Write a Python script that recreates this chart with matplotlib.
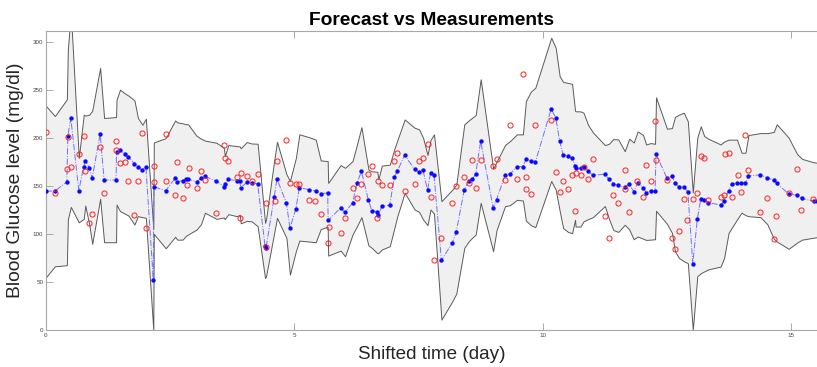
import matplotlib
matplotlib.use("Agg")
import matplotlib.pyplot as plt
import numpy as np

# forecast times (day), forecast value and band limits (mg/dl)
t_fc = [0.00, 0.18, 0.42, 0.44, 0.50, 0.66, 0.76, 0.79, 0.87, 0.93,
        1.09, 1.17, 1.41, 1.42, 1.49, 1.59, 1.66, 1.78, 1.85, 1.94,
        2.01, 2.16, 2.17, 2.41, 2.60, 2.64, 2.75, 2.82, 2.86, 3.03,
        3.12, 3.20, 3.43, 3.58, 3.60, 3.67, 3.84, 3.90, 3.92, 4.04,
        4.14, 4.26, 4.41, 4.43, 4.59, 4.65, 4.84, 4.91, 5.03, 5.10,
        5.30, 5.43, 5.53, 5.67, 5.68, 5.93, 6.02, 6.17, 6.26, 6.35,
        6.49, 6.56, 6.67, 6.69, 6.76, 6.92, 7.01, 7.07, 7.22, 7.42,
        7.51, 7.59, 7.68, 7.74, 7.81, 7.96, 8.18, 8.26, 8.42, 8.51,
        8.58, 8.65, 8.75, 9.00, 9.07, 9.24, 9.34, 9.48, 9.60, 9.66,
        9.76, 9.85, 10.17, 10.26, 10.34, 10.41, 10.51, 10.59, 10.65, 10.66,
        10.76, 10.82, 10.91, 11.01, 11.25, 11.33, 11.42, 11.52, 11.65, 11.74,
        11.83, 11.91, 12.02, 12.08, 12.17, 12.26, 12.28, 12.50, 12.60, 12.66,
        12.74, 12.84, 12.92, 13.02, 13.11, 13.18, 13.25, 13.33, 13.58, 13.65,
        13.74, 13.80, 13.91, 14.00, 14.08, 14.14, 14.38, 14.52, 14.65, 14.71,
        14.95, 15.12, 15.22, 15.45, 15.52]
forecast = [144.5, 144.5, 154, 202, 220, 145, 170, 176, 169, 158,
            204, 156, 156, 185, 187, 183, 180, 173, 170, 166,
            170, 52, 149, 145, 158, 154, 155.5, 156.6, 157, 154,
            157.6, 159.7, 155, 149, 151.7, 156.6, 155.5, 155, 148, 153.5,
            153, 152, 87, 85.4, 138, 157, 132, 106, 126, 148,
            146, 144.5, 141.7, 142.7, 114, 127, 122.6, 132, 153, 165,
            135, 124, 123, 120, 128.5, 130, 159, 165, 182, 167,
            164.6, 166, 145.5, 163, 161.5, 72.6, 90.6, 102.4, 146, 155,
            156.6, 162.5, 196.5, 127.4, 135.7, 161, 162, 170, 170, 177.4,
            176, 174.6, 229.9, 220.8, 196.5, 182, 180.5, 179, 170.5, 168,
            168, 170, 165, 161, 162, 157, 151.7, 150.7, 148.6, 151.7,
            144, 152.8, 148, 143, 144.8, 144.4, 183, 158, 160, 153,
            149, 148.6, 143.8, 69, 115, 136.5, 135.4, 132.6, 130, 133.7,
            145, 151.7, 152.4, 152.4, 153, 160, 161.5, 158.3, 156, 152.4,
            141.7, 140, 136.8, 134, 134]
upper = [233, 222.6, 240, 292, 330, 179, 224, 223, 224, 228,
         272.6, 220.5, 221.5, 239.6, 250, 246, 243.8, 238.9, 220.5, 213.5,
         219.8, 105, 195, 199.7, 218, 216, 215, 214, 214, 202,
         199, 197, 194.8, 189.6, 181, 192.4, 191.3, 191, 189, 195.5,
         194, 193.8, 111.5, 115, 175, 195.8, 162, 155, 179, 203.5,
         200.5, 198, 176.4, 175.7, 153, 171.5, 168.7, 175.7, 193, 211,
         167, 165, 164.6, 156.6, 171, 172, 188, 197, 219, 210.4,
         208.7, 200, 182, 197.6, 203.5, 134, 146, 151.4, 214, 218,
         220.8, 223.6, 260.8, 168, 175, 192.4, 196.5, 203.5, 203.5, 238,
         248, 252, 304, 293.5, 264, 258, 257, 256, 228, 227.5,
         227.4, 226, 213.5, 205.5, 192.4, 193.6, 198.6, 198.2, 186, 199,
         195, 206.6, 202.8, 193, 194.4, 193.7, 242, 209.4, 210, 221.5,
         224, 226, 217, 143, 200, 212, 201.7, 199, 193, 196,
         198, 198, 198, 184.4, 184.4, 202.8, 204.8, 204.8, 206, 214,
         200, 183, 178, 174.5, 174]
lower = [55, 66.3, 67.4, 115, 128, 112, 115.6, 129.5, 110, 89.6,
         136.5, 91.3, 91.3, 130.5, 123.6, 121, 119, 109.7, 118.4, 117.4,
         116.7, 0, 100, 85, 97, 94, 94, 98, 99.3, 104.5,
         110, 122, 115.6, 117, 115.3, 120.5, 118.4, 119.8, 111, 113.5,
         113, 108, 54, 56, 100, 116.7, 95.8, 57.6, 82, 93,
         92, 91.3, 105, 107.3, 77.4, 82.6, 76.7, 99.3, 108, 117.4,
         88, 85.4, 79.9, 80, 83.7, 87.2, 105.5, 118, 142.7, 125.3,
         122.9, 115, 109, 125.3, 121, 10.8, 30, 38, 85.4, 92.4,
         96, 99.3, 132.3, 82, 104, 128.8, 129.9, 135.4, 134.7, 113.9,
         109, 107, 155, 146, 124, 106, 102, 100.7, 114.6, 107.6,
         107.6, 113, 115.3, 117.4, 129, 116, 104, 102, 109.5, 104.6,
         94.4, 97.2, 95, 93.7, 94, 94.4, 124, 110.5, 101, 82,
         75, 71.5, 69.5, 0, 56, 59, 61, 63, 66, 75,
         101, 106, 115, 122, 119.5, 118.4, 117.4, 110, 95, 92,
         84.5, 91, 94, 96, 96.5]

# measurements
t_meas = [0.00, 0.18, 0.42, 0.44, 0.50, 0.67, 0.77, 0.79, 0.87, 0.93,
          1.09, 1.17, 1.41, 1.41, 1.49, 1.59, 1.66, 1.78, 1.85, 1.94,
          2.01, 2.17, 2.17, 2.41, 2.41, 2.59, 2.64, 2.75, 2.83, 2.87,
          3.03, 3.12, 3.20, 3.43, 3.59, 3.60, 3.67, 3.84, 3.90, 3.92,
          4.04, 4.14, 4.26, 4.43, 4.43, 4.61, 4.65, 4.84, 4.91, 5.03,
          5.10, 5.30, 5.42, 5.53, 5.67, 5.69, 5.93, 6.02, 6.17, 6.26,
          6.35, 6.49, 6.56, 6.67, 6.69, 6.76, 6.92, 7.01, 7.07, 7.22,
          7.42, 7.51, 7.59, 7.68, 7.74, 7.81, 7.96, 8.18, 8.26, 8.42,
          8.51, 8.58, 8.65, 8.75, 9.00, 9.07, 9.24, 9.34, 9.48, 9.60,
          9.66, 9.66, 9.76, 9.85, 10.17, 10.26, 10.34, 10.41, 10.51, 10.59,
          10.65, 10.66, 10.76, 10.82, 10.91, 11.01, 11.25, 11.33, 11.42, 11.52,
          11.65, 11.66, 11.74, 11.90, 12.02, 12.08, 12.17, 12.26, 12.28, 12.50,
          12.60, 12.66, 12.74, 12.84, 12.91, 13.02, 13.11, 13.18, 13.24, 13.33,
          13.58, 13.65, 13.66, 13.74, 13.80, 13.92, 14.00, 14.08, 14.14, 14.38,
          14.52, 14.65, 14.70, 14.95, 15.11, 15.20, 15.43]
bg_meas = [206, 142, 167, 201, 169.5, 183, 202, 165, 111, 121,
           190, 142, 197, 187.5, 174, 175, 155, 120, 155, 205,
           106, 171, 154, 203.5, 155, 140, 175, 137, 151, 168,
           148, 165, 156, 122, 192.4, 179, 176, 159, 116.7, 163,
           160.7, 155, 162, 132, 86.5, 133.7, 176, 198, 153, 152,
           152, 135.7, 134, 121, 90, 107.6, 100.7, 116.7, 148, 136.8,
           151.4, 162, 171, 116, 155, 150.7, 150.7, 175.7, 184, 145,
           152, 175.7, 179, 193, 138, 72.6, 95.8, 132.3, 150, 159,
           153.4, 177, 148, 177, 171, 178, 156, 213, 157, 266.7,
           159, 147, 141.7, 213, 218, 164, 144, 155, 147, 161.5,
           124, 163, 161, 170, 157, 178, 119, 95.8, 140, 132.3,
           147, 166, 123, 155, 138, 171.5, 155, 217, 177, 156,
           95.8, 84.7, 103, 136, 114.6, 136, 142.4, 181, 179, 135,
           138, 140, 183, 184, 138, 161, 144, 202.4, 166, 123,
           136.8, 94.8, 118.7, 143, 167.4, 125, 136.5]

plt.rcParams['font.family'] = ['Liberation Sans', 'DejaVu Sans']

fig = plt.figure(figsize=(8.17, 3.67), dpi=100)
ax = fig.add_axes([0.0563, 0.1008, 0.9437, 0.8147])

# uncertainty band
ax.fill_between(t_fc, lower, upper, facecolor='#f0f0f0', edgecolor='#5a5a5a',
                linewidth=0.7, zorder=1)
# forecast
ax.plot(t_fc, forecast, linestyle='-.', color='#7070ff', linewidth=0.7, zorder=2)
ax.plot(t_fc, forecast, linestyle='none', marker='.', markersize=4.3,
        color='#0a0aff', zorder=3)
# measurements
ax.plot(t_meas, bg_meas, linestyle='none', marker='o', markersize=3.7,
        markerfacecolor='none', markeredgecolor='#ff2020', markeredgewidth=0.7,
        zorder=4)

ax.set_xlim(0, 15.52)
ax.set_ylim(0, 311)
ax.set_xticks([0, 5, 10, 15])
ax.set_yticks([0, 50, 100, 150, 200, 250, 300])

for side in ['left', 'top', 'bottom']:
    ax.spines[side].set_color('#a8a8a8')
    ax.spines[side].set_linewidth(0.8)
ax.spines['right'].set_visible(False)
ax.tick_params(direction='in', length=5, width=0.7, color='#a8a8a8',
               labelsize=4.5, labelcolor='#444444', top=True, pad=2)

ax.set_title("Forecast vs Measurements", fontsize=13.8, fontweight='bold', pad=4)
ax.set_xlabel("Shifted time (day)", fontsize=13.6, color='#262626', labelpad=6)
ax.set_ylabel("Blood Glucose level (mg/dl)", fontsize=13.9, color='#262626', labelpad=6)

fig.savefig("out.png", dpi=100)
